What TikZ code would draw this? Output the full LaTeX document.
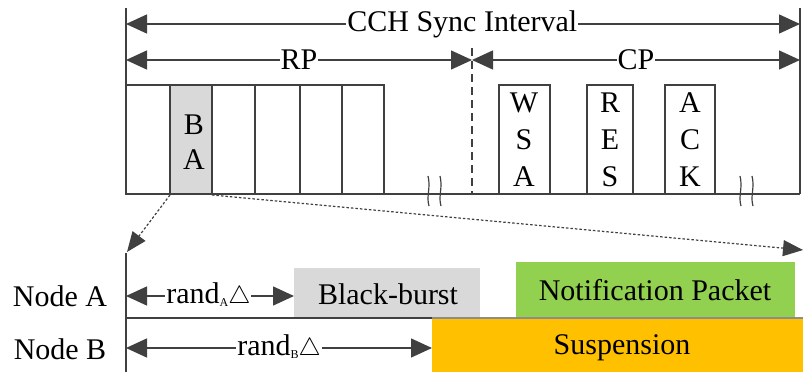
\documentclass[tikz,border=0pt]{standalone}
\usepackage{fontspec}
\setmainfont{Liberation Serif}
\newfontfamily\tms{Liberation Serif}
\usetikzlibrary{arrows.meta}
\definecolor{ln}{HTML}{404040}
\definecolor{bagray}{HTML}{D9D9D9}
\definecolor{npgreen}{HTML}{92D050}
\definecolor{susorange}{HTML}{FFC000}
\tikzset{
  txt/.style={font=\tms\fontsize{30}{32}\selectfont, inner sep=0pt, text=black},
  lbl/.style={txt, fill=white, inner xsep=1pt, inner ysep=2pt},
  dim/.style={draw=ln, line width=1.4pt, {Triangle[length=21pt,width=19pt]}-{Triangle[length=21pt,width=19pt]}},
  frame/.style={draw=ln, line width=1.4pt},
  slotbox/.style={draw=ln, line width=1.3pt},
  dots/.style={draw=ln, line width=1.2pt, dash pattern=on 2.5pt off 2pt, -{Triangle[length=20pt,width=16pt]}},
  brk/.style={draw=ln, line width=1.2pt},
}
\newcommand{\subA}[1]{\raisebox{-3pt}{\tms\fontsize{12}{12}\selectfont #1}}
\begin{document}
\begin{tikzpicture}[x=1pt,y=-1pt]
\useasboundingbox (0,0) rectangle (803,372);
% frame lines
\coordinate (L0) at (126,8);
\coordinate (L1) at (126,194);
\coordinate (R0) at (800,8);
\coordinate (R1) at (800,194);
\draw[frame] (L0) -- (L1);
\draw[frame] (R0) -- (R1);
\coordinate (D0) at (472,48);
\coordinate (D1) at (472,194);
\draw[draw=ln, line width=1.2pt, dash pattern=on 8pt off 5pt] (D0) -- (D1);
% dimension arrows
\coordinate (c0) at (126,24); \coordinate (c1) at (800,24);
\draw[dim] (c0) -- (c1) node[lbl, pos=0.499] (cch) {CCH Sync Interval};
\coordinate (r0) at (126,60); \coordinate (r1) at (472,60);
\draw[dim] (r0) -- (r1) node[lbl, pos=0.5] (rp) {RP};
\coordinate (p0) at (472,60); \coordinate (p1) at (800,60);
\draw[dim] (p0) -- (p1) node[lbl, pos=0.5] (cp) {CP};
% RP slots
\fill[bagray] (170,85) rectangle (212,194);
\draw[slotbox] (126,85) rectangle (384,194);
\foreach \x/\n in {170/a,212/b,255/c,300/d,342/e}{
  \coordinate (s\n0) at (\x,85); \coordinate (s\n1) at (\x,194);
  \draw[slotbox] (s\n0) -- (s\n1);
}
\node[txt] (baB) at (194,125) {B};
\node[txt] (baA) at (194,160) {A};
% bottom line
\draw[frame] (L1) -- (R1);
% CP boxes
\draw[slotbox] (499,85) rectangle (550,194);
\draw[slotbox] (587,85) rectangle (633,194);
\draw[slotbox] (665,85) rectangle (715,194);
\node[txt] (w1) at (524,103) {W};
\node[txt] (w2) at (524,140) {S};
\node[txt] (w3) at (524,177) {A};
\node[txt] (r1t) at (610,103) {R};
\node[txt] (r2t) at (610,140) {E};
\node[txt] (r3t) at (610,177) {S};
\node[txt] (a1) at (690,103) {A};
\node[txt] (a2) at (690,140) {C};
\node[txt] (a3) at (690,177) {K};
% break marks
\foreach \x in {428,440,740,752}{
  \draw[brk] (\x,176) .. controls (\x+3,188) and (\x-2,196) .. (\x+1,206);
}
% zoom arrows
\coordinate (z0) at (170,195);
\coordinate (z1) at (127,252);
\coordinate (z2) at (212,195);
\coordinate (z3) at (803,250);
\draw[dots] (z0) -- (z1);
\draw[dots] (z2) -- (z3);
% lower timeline
\fill[bagray] (294,268) rectangle (480,318);
\fill[npgreen] (516,262) rectangle (795,318);
\fill[susorange] (432,318) rectangle (803,372);
\node[txt] (bb) at (388,294) {Black-burst};
\node[txt] (np) at (655,290) {Notification Packet};
\node[txt] (sus) at (622,348) {Suspension};
\coordinate (T0) at (126,253);
\coordinate (T1) at (126,372);
\draw[frame] (T0) -- (T1);
\coordinate (H0) at (126,318);
\coordinate (H1) at (803,318);
\draw[draw=ln!60, line width=1.2pt] (H0) -- (H1);
\draw[frame] (H0) -- (432,318);
\node[txt] (na) at (60,296) {Node A};
\node[txt] (nb) at (60,349) {Node B};
\coordinate (ra0) at (126,296); \coordinate (ra1) at (294,296);
\draw[dim] (ra0) -- (ra1) node[lbl, pos=0.49] (randA) {rand\subA{A}$\triangle$};
\coordinate (rb0) at (126,348); \coordinate (rb1) at (432,348);
\draw[dim] (rb0) -- (rb1) node[lbl, pos=0.5] (randB) {rand\subA{B}$\triangle$};
\end{tikzpicture}
\end{document}
